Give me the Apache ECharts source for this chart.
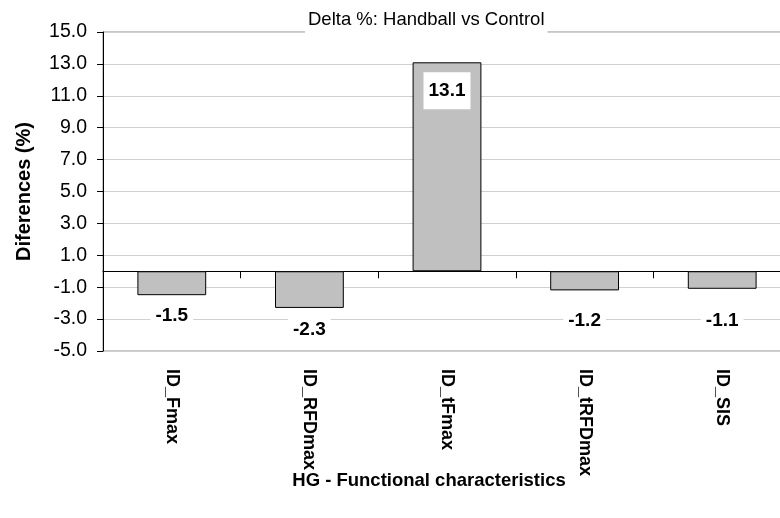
<!DOCTYPE html>
<html>
<head>
<meta charset="utf-8">
<script src="https://cdn.jsdelivr.net/npm/echarts@6/dist/echarts.min.js"></script>
<style>
html,body{margin:0;padding:0;background:#fff;width:780px;height:518px;overflow:hidden;}
#chart{width:795px;height:518px;}
</style>
</head>
<body>
<div id="chart"></div>
<script>
// ---- data ----
const categories = ['ID_Fmax', 'ID_RFDmax', 'ID_tFmax', 'ID_tRFDmax', 'ID_SIS'];
const deltaValues = [-1.5, -2.3, 13.1, -1.2, -1.1];
const yTicks = { min: -5, max: 15, step: 2 };
const chartTitle = 'Delta %: Handball vs Control';
const yAxisTitle = 'Diferences (%)';
const xAxisTitle = 'HG - Functional characteristics';

// ---- style (label offsets from bar end, px) ----
const labelGap = [2, 3, 10, 12, 13];

const FONT = '"Liberation Sans", Arial, sans-serif';
const chart = echarts.init(document.getElementById('chart'));

const barData = deltaValues.map((v, i) => ({
  value: v,
  label: {
    position: v >= 0 ? 'insideTop' : 'bottom',
    distance: labelGap[i]
  }
}));

chart.setOption({
  backgroundColor: '#ffffff',
  animation: false,
  title: {
    text: chartTitle,
    left: 305,
    top: 7,
    padding: [3, 3, 5, 3],
    backgroundColor: '#ffffff',
    textStyle: { fontFamily: FONT, fontSize: 18.5, fontWeight: 'normal', color: '#000' },
    z: 20
  },
  graphic: [{
    type: 'text',
    x: 429, y: 481,
    z: 20,
    style: {
      text: xAxisTitle,
      align: 'center', verticalAlign: 'middle',
      font: 'bold 18.5px ' + FONT,
      fill: '#000'
    }
  }],
  grid: {
    left: 103, width: 688, top: 32, height: 319,
    show: true, borderColor: '#8c8c8c', borderWidth: 1,
    backgroundColor: 'transparent'
  },
  xAxis: [{
    type: 'category',
    data: categories,
    position: 'bottom',
    axisLine: { onZero: true, lineStyle: { color: '#000', width: 1 } },
    axisTick: { show: true, length: 7, inside: false, lineStyle: { color: '#000' } },
    axisLabel: { show: false },
    splitLine: { show: false }
  }, {
    type: 'category',
    data: categories,
    position: 'bottom',
    axisLine: { show: false, onZero: false },
    axisTick: { show: false },
    axisLabel: {
      rotate: -90, margin: 18, interval: 0,
      fontFamily: FONT, fontSize: 18, fontWeight: 'bold', color: '#000'
    },
    splitLine: { show: false }
  }],
  yAxis: {
    type: 'value',
    min: yTicks.min, max: yTicks.max, interval: yTicks.step,
    name: yAxisTitle,
    nameLocation: 'middle',
    nameGap: 69,
    nameTextStyle: { fontFamily: FONT, fontSize: 20, fontWeight: 'bold', color: '#000' },
    axisLine: { show: true, lineStyle: { color: '#000', width: 1 } },
    axisTick: { show: true, length: 6, lineStyle: { color: '#000' } },
    axisLabel: {
      margin: 16,
      fontFamily: FONT, fontSize: 19.5, color: '#000',
      formatter: v => v.toFixed(1)
    },
    splitLine: { show: true, lineStyle: { color: '#d0d0d0', width: 1 } }
  },
  series: [{
    type: 'bar',
    xAxisIndex: 0,
    data: barData,
    barWidth: '50%',
    itemStyle: { color: '#c0c0c0', borderColor: '#000', borderWidth: 1 },
    label: {
      show: true,
      fontFamily: FONT, fontSize: 19, fontWeight: 'bold', color: '#000',
      backgroundColor: '#ffffff',
      padding: [9, 5],
      formatter: p => p.value.toFixed(1)
    },
    z: 3
  }]
});
</script>
</body>
</html>
